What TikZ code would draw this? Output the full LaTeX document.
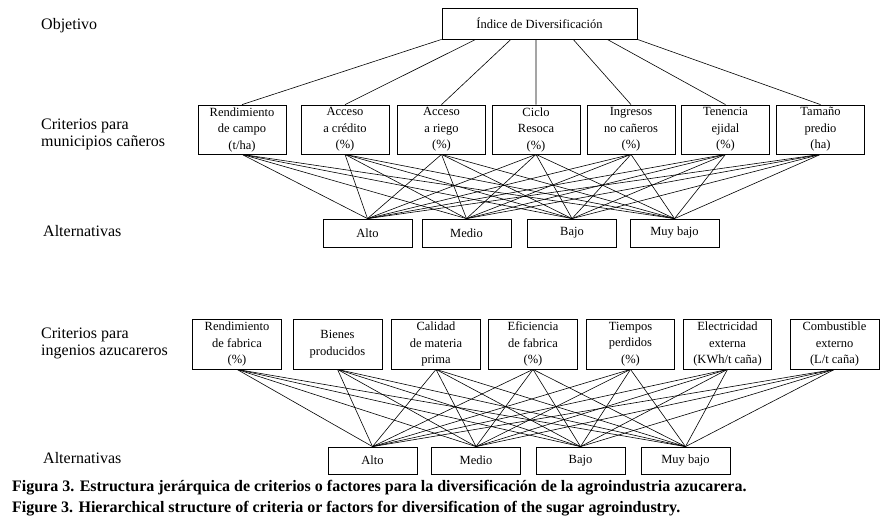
\documentclass[tikz,border=0pt]{standalone}
\usepackage{fontspec}
\setmainfont{Liberation Serif}
\usetikzlibrary{calc}
\begin{document}
\begin{tikzpicture}[x=1pt,y=-1pt,
  box/.style={draw,line width=0.8pt,inner sep=0pt,align=center,font=\fontsize{12.5}{16.5}\selectfont},
  crit/.style={box,minimum width=88pt,minimum height=49pt},
  alt/.style={box,minimum width=89pt,minimum height=28pt},
  lbl/.style={anchor=west,inner sep=0pt,align=left,font=\fontsize{16}{17}\selectfont},
  link/.style={line width=0.6pt},
  captxt/.style={anchor=base west,inner sep=0pt,font=\bfseries\fontsize{16}{21}\selectfont}]
\useasboundingbox (0,0) rectangle (893,530);
% goal
\node[box,minimum width=195pt,minimum height=31pt] (goal) at (539.5,23.5) {Índice de Diversificación};
% criteria row 1
\node[crit] (c1) at (242,129.5) {Rendimiento\\de campo\\(t/ha)};
\node[crit] (c2) at (345,129.5) {Acceso\\a crédito\\(\%)};
\node[crit] (c3) at (441.5,129.5) {Acceso\\a riego\\(\%)};
\node[crit] (c4) at (536,129.5) {Ciclo\\Resoca\\(\%)};
\node[crit] (c5) at (631,129.5) {Ingresos\\no cañeros\\(\%)};
\node[crit] (c6) at (725.5,129.5) {Tenencia\\ejidal\\(\%)};
\node[crit] (c7) at (820.5,129.5) {Tamaño\\predio\\(ha)};
% alternatives row 1
\node[alt] (a1) at (367.5,233) {Alto};
\node[alt] (a2) at (466.5,233) {Medio};
\node[alt] (a3) at (572,233) {Bajo};
\node[alt] (a4) at (674.5,233) {Muy bajo};
% criteria row 2
\node[crit,minimum width=89pt,minimum height=50pt] (d1) at (237,344) {Rendimiento\\de fabrica\\(\%)};
\node[crit,minimum width=89pt,minimum height=50pt] (d2) at (337.5,344) {Bienes\\producidos};
\node[crit,minimum width=89pt,minimum height=50pt] (d3) at (436,344) {Calidad\\de materia\\prima};
\node[crit,minimum width=89pt,minimum height=50pt] (d4) at (533,344) {Eficiencia\\de fabrica\\(\%)};
\node[crit,minimum width=88pt,minimum height=50pt] (d5) at (630.5,344) {Tiempos\\perdidos\\(\%)};
\node[crit,minimum width=88pt,minimum height=50pt] (d6) at (727.5,344) {Electricidad\\externa\\(KWh/t caña)};
\node[crit,minimum width=89pt,minimum height=50pt] (d7) at (834.5,344) {Combustible\\externo\\(L/t caña)};
% alternatives row 2
\node[alt,minimum height=27pt] (b1) at (372.5,460.5) {Alto};
\node[alt,minimum height=27pt] (b2) at (476,460.5) {Medio};
\node[alt,minimum height=27pt] (b3) at (580.5,460.5) {Bajo};
\node[alt,minimum height=27pt] (b4) at (685.5,460.5) {Muy bajo};
% connectors
\foreach \i/\k in {1/0,2/0.174,3/0.354,4/0.482,5/0.672,6/0.846,7/1}
  \draw[link] ($(goal.south west)!\k!(goal.south east)$) -- (c\i.north);
\foreach \i in {1,...,7}
  \foreach \j in {1,...,4} {
    \draw[link] (c\i.south) -- (a\j.north);
    \draw[link] (d\i.south) -- (b\j.north);
  }
% labels
\node[lbl] (lobj) at (41,26) {Objetivo};
\node[lbl] (lcrit1) at (41,134) {Criterios para\\municipios cañeros};
\node[lbl] (lalt1) at (43,231) {Alternativas};
\node[lbl] (lcrit2) at (41,343) {Criterios para\\ingenios azucareros};
\node[lbl] (lalt2) at (43,458) {Alternativas};
% caption
\node[captxt] (cap1) at (12,491) {Figura 3. Estructura jerárquica de criterios o factores para la diversificación de la agroindustria azucarera.};
\node[captxt] (cap2) at (12,512) {Figure 3. Hierarchical structure of criteria or factors for diversification of the sugar agroindustry.};
\end{tikzpicture}
\end{document}
